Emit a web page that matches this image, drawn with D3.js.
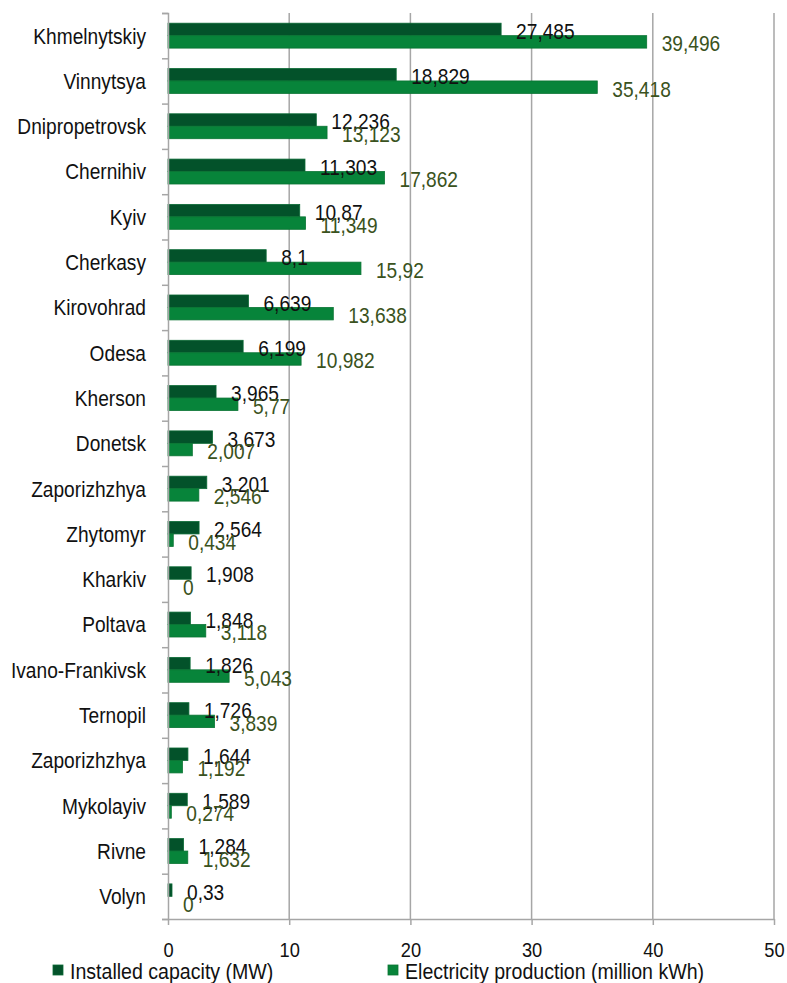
<!DOCTYPE html>
<html><head><meta charset="utf-8">
<script src="https://cdn.jsdelivr.net/npm/d3@7/dist/d3.min.js"></script>
<style>
html,body{margin:0;padding:0;background:#fff;}
svg text{font-family:"Liberation Sans Narrow","Arial Narrow","Liberation Sans",Arial,sans-serif;}
</style></head>
<body><svg id="c" width="787" height="983"></svg>
<script>
const categories = ["Khmelnytskiy","Vinnytsya","Dnipropetrovsk","Chernihiv","Kyiv","Cherkasy","Kirovohrad","Odesa","Kherson","Donetsk","Zaporizhzhya","Zhytomyr","Kharkiv","Poltava","Ivano-Frankivsk","Ternopil","Zaporizhzhya","Mykolayiv","Rivne","Volyn"];
const installed = [27.485,18.829,12.236,11.303,10.87,8.1,6.639,6.199,3.965,3.673,3.201,2.564,1.908,1.848,1.826,1.726,1.644,1.589,1.284,0.33];
const production = [39.496,35.418,13.123,17.862,11.349,15.92,13.638,10.982,5.77,2.007,2.546,0.434,0,3.118,5.043,3.839,1.192,0.274,1.632,0];
const seriesNames = ["Installed capacity (MW)","Electricity production (million kWh)"];
const xTicks = [0,10,20,30,40,50];

const SX = 0.87; // emulate narrow font
const svg = d3.select("#c");
const L = 168, R = 774, T = 13, B = 919;
const x = d3.scaleLinear().domain([0,50]).range([L,R]);
const idx = categories.map((d,i)=>i);
const y0 = d3.scaleBand().domain(idx).range([T,B]).paddingInner(0.45).paddingOuter(0.225);
const y1 = d3.scaleBand().domain([0,1]).range([0,y0.bandwidth()]);
const fills = ["#03522A","#07843A"];
const strokes = ["#0b6a35","#0a7433"];
const labelColors = ["#111","#3a5220"];
const gray = "#a6a6a6";

function narrowText(sel, fx, fy, sx){
  const s = sx || SX;
  sel.attr("transform",(d,i)=>`translate(${fx(d,i)},${fy(d,i)}) scale(${s},1)`)
     .attr("x",0).attr("y",0);
  return sel;
}

// gridlines
svg.append("g").selectAll("line").data(xTicks.slice(1)).join("line")
  .attr("x1",d=>x(d)).attr("x2",d=>x(d)).attr("y1",T).attr("y2",B)
  .attr("stroke",gray).attr("stroke-width",1.5);

// bars
const data = [installed, production];
const groups = svg.append("g").selectAll("g").data(idx).join("g")
  .attr("transform",i=>`translate(0,${y0(i)})`);
[0,1].forEach(s=>{
  groups.append("rect")
    .attr("x",x(0)).attr("y",y1(s))
    .attr("width",i=>x(data[s][i])-x(0)).attr("height",y1.bandwidth())
    .attr("fill",fills[s]).attr("stroke",strokes[s]).attr("stroke-width",0.8);
});
// labels
[0,1].forEach(s=>{
  narrowText(groups.append("text"), i=>x(data[s][i])+15, ()=>y1(s)+y1.bandwidth()/2+1.5)
    .attr("dy","0.36em").attr("font-size",22).attr("fill",labelColors[s])
    .text(i=>String(data[s][i]).replace(".",","));
});

// y axis
const yAxis = d3.axisLeft(d3.scaleLinear().domain([0,20]).range([T,B])).tickValues(d3.range(0,21)).tickSize(6).tickFormat("");
const ya = svg.append("g").attr("transform",`translate(${L},0)`).call(yAxis);
ya.selectAll("line,path").attr("stroke",gray).attr("stroke-width",1.5);
narrowText(svg.append("g").selectAll("text").data(idx).join("text"), ()=>146, i=>y0(i)+y0.bandwidth()/2)
  .attr("dy","0.36em").attr("text-anchor","end").attr("font-size",22).attr("fill","#111")
  .text(i=>categories[i]);

// x axis
const xa = svg.append("g").attr("transform",`translate(0,${B})`)
  .call(d3.axisBottom(x).tickValues(xTicks).tickSize(6).tickSizeOuter(0).tickFormat(d3.format("d")));
xa.selectAll("line,path").attr("stroke",gray).attr("stroke-width",1.5);
xa.attr("font-family",null).attr("font-size",null);
xa.selectAll("text").attr("font-size",21).attr("fill","#111").attr("dy",0)
  .attr("transform",`translate(0,38) scale(${SX},1)`).attr("y",0);

// legend
const legX = [53,388];
const lg = svg.append("g").selectAll("g").data([0,1]).join("g")
  .attr("transform",s=>`translate(${legX[s]},965)`);
lg.append("rect").attr("width",10).attr("height",10).attr("fill",s=>fills[s]).attr("stroke",s=>strokes[s]).attr("stroke-width",0.8);
narrowText(lg.append("text"), ()=>17, ()=>6, 0.89)
  .attr("dy","0.36em").attr("font-size",22).attr("fill","#111")
  .text(s=>seriesNames[s]);
</script></body></html>
